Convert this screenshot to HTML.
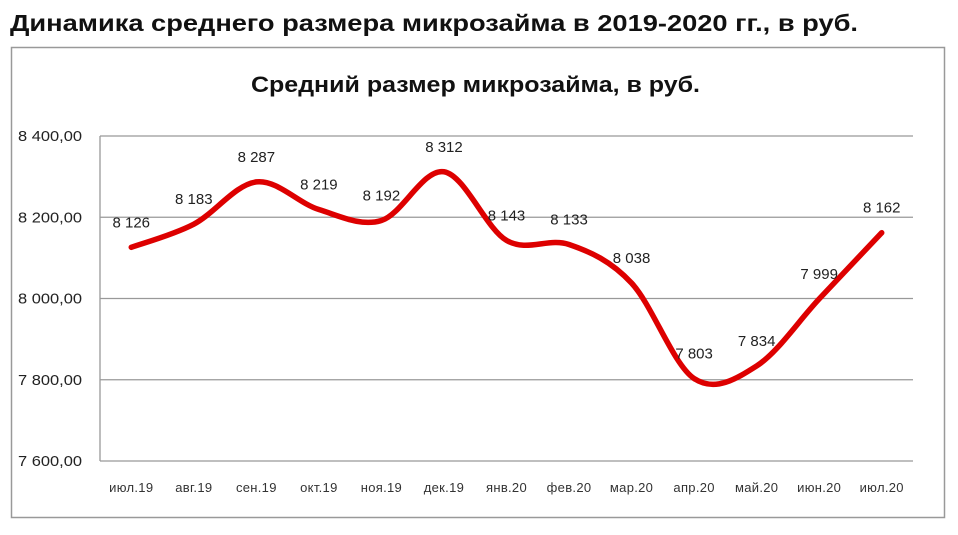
<!DOCTYPE html>
<html><head><meta charset="utf-8"><style>
body{margin:0;background:#fff;width:958px;height:530px;overflow:hidden;font-family:"Liberation Sans","DejaVu Sans",sans-serif}
</style></head><body>
<svg width="958" height="530">
<text x="10" y="31" font-size="23" font-weight="bold" fill="#111" textLength="848" lengthAdjust="spacingAndGlyphs">Динамика среднего размера микрозайма в 2019-2020 гг., в руб.</text>
<rect x="11.5" y="47.5" width="933" height="470" fill="#fff" stroke="#999" stroke-width="1.5"/>
<text x="251" y="92" font-size="22" font-weight="bold" fill="#111" textLength="449" lengthAdjust="spacingAndGlyphs">Средний размер микрозайма, в руб.</text>
<g id="grid"></g><g id="yl"></g><g id="xl"></g><g id="ser"></g><g id="lbl"></g>
</svg>
<script>
const categories=["июл.19","авг.19","сен.19","окт.19","ноя.19","дек.19","янв.20","фев.20","мар.20","апр.20","май.20","июн.20","июл.20"];
const values=[8126,8183,8287,8219,8192,8312,8143,8133,8038,7803,7834,7999,8162];
const yTicks=[7600,7800,8000,8200,8400];
const yTickLabels=["7 600,00","7 800,00","8 000,00","8 200,00","8 400,00"];
const NS="http://www.w3.org/2000/svg";
const L=100,R=913,T=136,B=461,ymin=7600,ymax=8400;
const step=(R-L)/categories.length;
const x=i=>L+step*(i+0.5);
const y=v=>B-(v-ymin)/(ymax-ymin)*(B-T);
function mk(tag,attrs,parent,txt){const e=document.createElementNS(NS,tag);for(const k in attrs)e.setAttribute(k,attrs[k]);if(txt!==undefined)e.textContent=txt;document.getElementById(parent).appendChild(e);return e;}
yTicks.forEach((t,i)=>{
 const g=mk('line',{x1:L,x2:R,y1:y(t),y2:y(t),stroke:'#999','stroke-width':1.3},'grid');
 
 
 const tl=mk('text',{x:18,y:y(t)+5,'font-size':15,fill:'#222',textLength:64,lengthAdjust:'spacingAndGlyphs'},'yl',yTickLabels[i]);
 
 
});
const ax=mk('line',{x1:L,x2:L,y1:T,y2:B,stroke:'#999','stroke-width':1.3},'grid');


categories.forEach((c,i)=>{
 const t=mk('text',{x:x(i),y:492,'font-size':13,'text-anchor':'middle',fill:'#333','letter-spacing':'0.3'},'xl',c);
 
 
});
const pts=values.map((v,i)=>[x(i),y(v)]);
let d='M'+pts[0][0]+','+pts[0][1];
for(let i=0;i<pts.length-1;i++){
 const p0=pts[Math.max(0,i-1)],p1=pts[i],p2=pts[i+1],p3=pts[Math.min(pts.length-1,i+2)];
 const k=1/6;
 d+=' C'+(p1[0]+(p2[0]-p0[0])*k)+','+(p1[1]+(p2[1]-p0[1])*k)+' '+(p2[0]-(p3[0]-p1[0])*k)+','+(p2[1]-(p3[1]-p1[1])*k)+' '+p2[0]+','+p2[1];
}
const line=mk('path',{d:d,fill:'none',stroke:'#dd0000','stroke-width':5.5,'stroke-linecap':'round'},'ser');


values.forEach((v,i)=>{
 const s=String(v).replace(/(\d)(?=(\d{3})+$)/g,'$1 ');
 const t=mk('text',{x:x(i),y:y(v)-20,'font-size':15,'text-anchor':'middle',fill:'#222'},'lbl',s);
 
 
});
</script>
</body></html>
